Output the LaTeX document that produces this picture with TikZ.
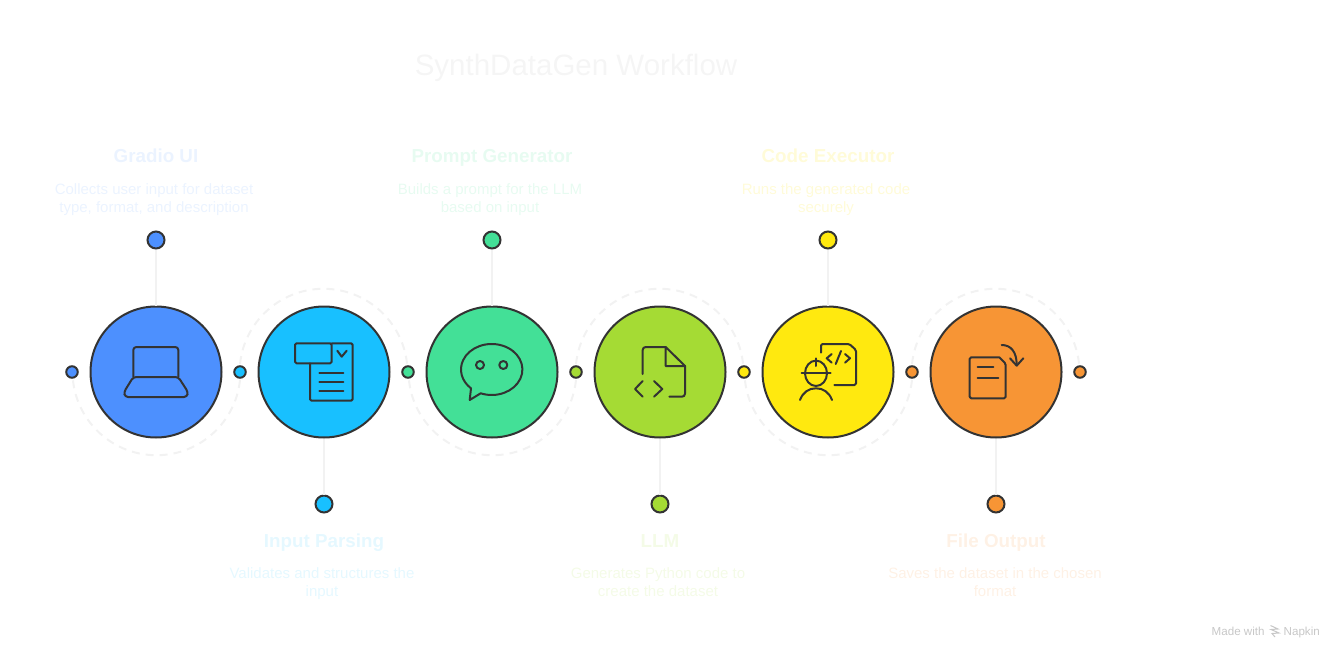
\documentclass[tikz,border=0pt]{standalone}
\usepackage{fontspec}
\setmainfont{Liberation Sans}
\usepackage{tikz}

\definecolor{inkline}{HTML}{333333}
\definecolor{wireline}{HTML}{F2F2F2}
\definecolor{blueA}{HTML}{4D90FE}
\definecolor{cyanA}{HTML}{18C0FF}
\definecolor{greenA}{HTML}{43E097}
\definecolor{limeA}{HTML}{A5DB34}
\definecolor{yellowA}{HTML}{FFE90F}
\definecolor{orangeA}{HTML}{F79535}

\tikzset{
  bigdisc/.style={circle, draw=inkline, line width=2pt, minimum size=131pt, inner sep=0pt},
  middot/.style={circle, draw=inkline, line width=2pt, minimum size=11.5pt, inner sep=0pt},
  labeldot/.style={circle, draw=inkline, line width=2pt, minimum size=17pt, inner sep=0pt},
  wire/.style={draw=wireline, line width=2pt},
  ring/.style={draw=wireline, line width=2pt, dash pattern=on 8pt off 6pt},
  icon/.style={draw=inkline, line width=2pt, line join=round, line cap=round},
  headtext/.style={font=\bfseries\fontsize{18.8}{22}\selectfont, inner sep=0pt, anchor=base},
  desctext/.style={font=\fontsize{15}{18}\selectfont, align=center, inner sep=0pt, anchor=base}
}

\begin{document}
\begin{tikzpicture}[x=1pt, y=-1pt]
\useasboundingbox (0,0) rectangle (1344,658);

\node[font=\fontsize{29.5}{34}\selectfont, text=black!4, inner sep=0pt, anchor=base] (title) at (576,76) {SynthDataGen Workflow};

% dashed rings
\draw[ring] (240,380) arc[start angle=6, end angle=174, radius=84];
\draw[ring] (240,364) arc[start angle=-174, end angle=-6, radius=84];
\draw[ring] (576,380) arc[start angle=6, end angle=174, radius=84];
\draw[ring] (576,364) arc[start angle=-174, end angle=-6, radius=84];
\draw[ring] (912,380) arc[start angle=6, end angle=174, radius=84];
\draw[ring] (912,364) arc[start angle=-174, end angle=-6, radius=84];

% discs
\node[bigdisc, fill=blueA] (gradio) at (156,372) {};
\node[bigdisc, fill=cyanA] (parsing) at (324,372) {};
\node[bigdisc, fill=greenA] (prompt) at (492,372) {};
\node[bigdisc, fill=limeA] (llm) at (660,372) {};
\node[bigdisc, fill=yellowA] (executor) at (828,372) {};
\node[bigdisc, fill=orangeA] (output) at (996,372) {};

% dots on the axis
\node[middot, fill=blueA] (m0) at (72,372) {};
\node[middot, fill=cyanA] (m1) at (240,372) {};
\node[middot, fill=greenA] (m2) at (408,372) {};
\node[middot, fill=limeA] (m3) at (576,372) {};
\node[middot, fill=yellowA] (m4) at (744,372) {};
\node[middot, fill=orangeA] (m5) at (912,372) {};
\node[middot, fill=orangeA] (m6) at (1080,372) {};

% label dots
\node[labeldot, fill=blueA] (d0) at (156,240) {};
\node[labeldot, fill=cyanA] (d1) at (324,504) {};
\node[labeldot, fill=greenA] (d2) at (492,240) {};
\node[labeldot, fill=limeA] (d3) at (660,504) {};
\node[labeldot, fill=yellowA] (d4) at (828,240) {};
\node[labeldot, fill=orangeA] (d5) at (996,504) {};

\draw[wire] (d0) -- (gradio);
\draw[wire] (d1) -- (parsing);
\draw[wire] (d2) -- (prompt);
\draw[wire] (d3) -- (llm);
\draw[wire] (d4) -- (executor);
\draw[wire] (d5) -- (output);

% texts
\node[headtext, text=blueA!11] (h0) at (156,163) {Gradio UI};
\node[desctext, text=blueA!11] (t0) at (154,212.3) {Collects user input for dataset\\type, format, and description};
\node[headtext, text=cyanA!11] (h1) at (324,547) {Input Parsing};
\node[desctext, text=cyanA!11] (t1) at (322,596.3) {Validates and structures the\\input};
\node[headtext, text=greenA!13] (h2) at (492,163) {Prompt Generator};
\node[desctext, text=greenA!13] (t2) at (490,212.3) {Builds a prompt for the LLM\\based on input};
\node[headtext, text=limeA!12] (h3) at (660,547) {LLM};
\node[desctext, text=limeA!12] (t3) at (658,596.3) {Generates Python code to\\create the dataset};
\node[headtext, text=yellowA!16] (h4) at (828,163) {Code Executor};
\node[desctext, text=yellowA!16] (t4) at (826,212.3) {Runs the generated code\\securely};
\node[headtext, text=orangeA!13] (h5) at (996,547) {File Output};
\node[desctext, text=orangeA!13] (t5) at (995,596.3) {Saves the dataset in the chosen\\format};

% laptop
\draw[icon, rounded corners=3pt] (133.3,377) -- (133.3,347) -- (178.3,347) -- (178.3,377);
\draw[icon, rounded corners=3pt] (133.3,377) -- (124,392) -- (125,397) -- (187,397) -- (188,392) -- (178.3,377) -- cycle;

% form
\draw[icon, rounded corners=1.5pt] (295,343.3) rectangle (331.7,363.3);
\draw[icon, rounded corners=1.5pt] (331.7,343.3) -- (352.7,343.3) -- (352.7,400.7) -- (310,400.7) -- (310,363.3);
\draw[icon] (337.3,350.7) -- (341.7,356.7) -- (346.7,350.7);
\draw[icon] (319.3,373.3) -- (343.3,373.3);
\draw[icon] (319.3,382) -- (343.3,382);
\draw[icon] (319.3,390.7) -- (343.3,390.7);

% chat
\draw[icon] (480.7,393.3) arc[start angle=111, end angle=-227.6, x radius=30.7, y radius=25.5] -- (469.7,400) -- cycle;
\draw[icon] (480,365) circle (4);
\draw[icon] (503.3,365) circle (4);

% code file
\draw[icon, rounded corners=3pt] (642.7,374) -- (642.7,347) -- (665.7,347);
\draw[icon] (665.7,347) -- (685,366) -- (665.7,366) -- cycle;
\draw[icon, rounded corners=3pt] (685,366) -- (685,396.7) -- (669.3,396.7);
\draw[icon] (642.7,381) -- (635,389) -- (642.7,396.7);
\draw[icon] (654,381) -- (662.3,389) -- (654,396.7);

% engineer
\draw[icon, rounded corners=1.5pt] (821,352.7) -- (821,344) -- (849.3,344) -- (856,350) -- (856,385) -- (834.3,385);
\draw[icon] (831.7,354) -- (826.7,358.3) -- (831.7,362.7);
\draw[icon] (841,351) -- (835.7,364);
\draw[icon] (845,354) -- (850,358.3) -- (845,362.7);
\draw[icon] (816,373.3) ellipse[x radius=11, y radius=12.7];
\draw[icon] (801.7,373.3) -- (830.7,373.3);
\draw[icon] (816,358.3) -- (816,366);
\draw[icon] (800,400) .. controls (803,392) and (809,388.3) .. (816,388.3) .. controls (823,388.3) and (829,392) .. (832,400);

% saved file
\draw[icon, rounded corners=1.5pt] (999.3,357.3) -- (969.7,357.3) -- (969.7,398.3) -- (1005.7,398.3) -- (1005.7,363.7) -- (999.3,357.3);
\draw[icon] (977.7,367.3) -- (993.3,367.3);
\draw[icon] (977.7,377.7) -- (998.3,377.7);
\draw[icon] (1001.7,345) .. controls (1011,345) and (1016.7,352) .. (1016.7,365);
\draw[icon] (1010,358.3) -- (1016.7,365.7) -- (1023.3,358.3);

% watermark
\node[font=\fontsize{11.6}{13}\selectfont, text=black!22, anchor=base west, inner sep=0pt] (made) at (1211.5,635) {Made with};
\node[font=\fontsize{11.6}{13}\selectfont, text=black!22, anchor=base east, inner sep=0pt] (napkin) at (1320,635) {Napkin};
\draw[draw=black!22, line width=1pt] (1270.5,625.5) -- (1278,629) -- (1271,629.5) -- (1279,633) -- (1272,633.5) -- (1275,637);
\end{tikzpicture}
\end{document}
